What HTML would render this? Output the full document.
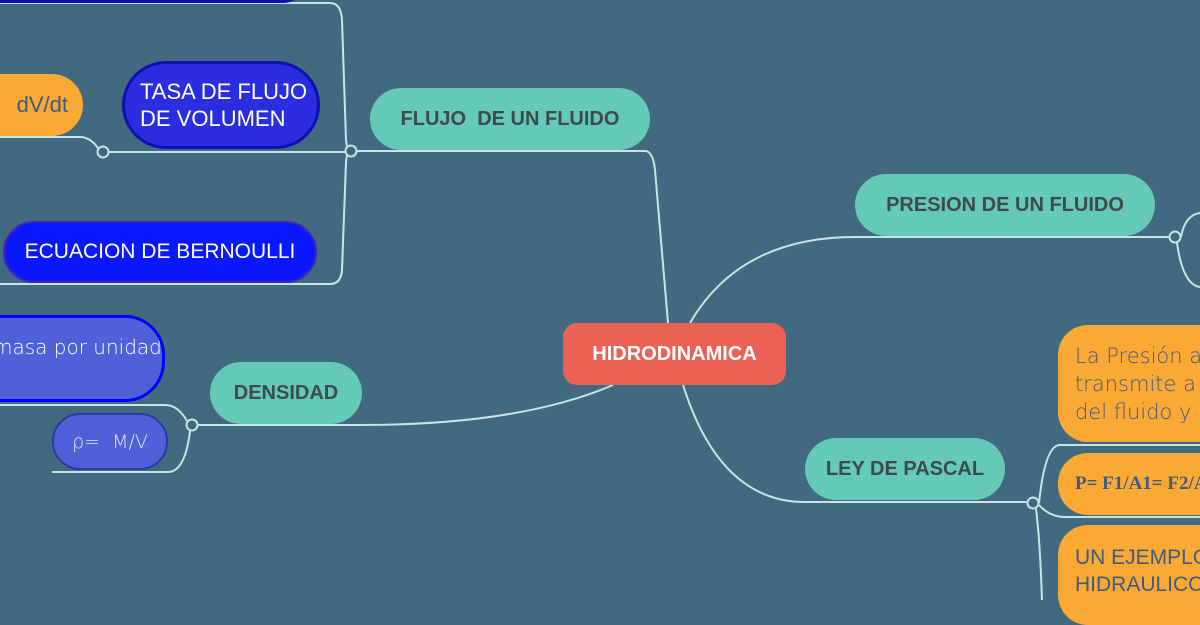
<!DOCTYPE html>
<html><head><meta charset="utf-8"><style>
html,body{margin:0;padding:0;width:1200px;height:600px;overflow:hidden;background:#416a80}
svg{position:absolute;left:0;top:0}
.n{position:absolute;box-sizing:border-box;display:flex;align-items:center;font-family:"Liberation Sans",sans-serif;white-space:nowrap}
.t{background:#65c9b8;color:#3f4a4c;font-weight:bold;font-size:20px;border-radius:31px;justify-content:center}
.hand{font-family:"DejaVu Sans",sans-serif;font-weight:300}
</style></head><body>
<svg width="1200" height="600" fill="none" stroke="#c6e6e4" stroke-width="2">
<path d="M0 3 H330 Q341 3 342 20 L346 140 Q347 151 351 151 Q347 151 346 162 L342 270 Q341 284 330 284 H0"/>
<path d="M0 137 H80 Q90 137 98 148"/>
<path d="M108 152 H345"/>
<path d="M357 151 H645 Q653 151 655 170 L668 323"/>
<path d="M690 323 Q740 237 855 237 H1169"/>
<path d="M1181 237 Q1185 215 1200 213"/>
<path d="M1177 243 Q1183 285 1200 287"/>
<path d="M683 385 Q720 502 805 502 H1027"/>
<path d="M1039 503 Q1045 445 1060 445 H1200"/>
<path d="M1039 505 Q1050 517 1065 517 H1200"/>
<path d="M1036 509 Q1040 540 1042 600"/>
<path d="M613 385 Q520 425 360 425 H198"/>
<path d="M187 421 Q178 405 165 405 H0"/>
<path d="M190 431 Q185 472 168 472 H52"/>
<circle cx="351" cy="151" r="5.5" fill="#416a80"/>
<circle cx="103" cy="152" r="5.5" fill="#416a80"/>
<circle cx="1175" cy="237" r="5.5" fill="#416a80"/>
<circle cx="1033" cy="503" r="5.5" fill="#416a80"/>
<circle cx="192" cy="425" r="5.5" fill="#416a80"/>
</svg>
<div class="n" style="left:-40px;top:-40px;width:345px;height:43px;background:#2a2ee0;border:3px solid #1010b0;border-radius:30px"></div>
<div class="n" style="left:-40px;top:74px;width:123px;height:62px;background:#fba834;border-radius:31px;color:#3d5c80;font-size:22px;justify-content:flex-end;padding-right:15px">dV/dt</div>
<div class="n" style="left:122px;top:61px;width:198px;height:88px;background:#2a2ee0;border:3px solid #1010b0;border-radius:44px;color:#fff;font-size:22px;padding-left:15px;line-height:27px">TASA DE FLUJO<br>DE VOLUMEN</div>
<div class="n" style="left:3px;top:221px;width:314px;height:62px;background:#0a18ff;border:2px solid #4028b0;border-radius:31px;color:#fff;font-size:21px;justify-content:center">ECUACION DE BERNOULLI</div>
<div class="n t" style="left:370px;top:88px;width:280px;height:62px">FLUJO&nbsp; DE UN FLUIDO</div>
<div class="n" style="left:563px;top:323px;width:223px;height:62px;background:#eb6155;border-radius:14px;color:#fff;font-weight:bold;font-size:20px;justify-content:center">HIDRODINAMICA</div>
<div class="n t" style="left:855px;top:174px;width:300px;height:62px">PRESION DE UN FLUIDO</div>
<div class="n t" style="left:805px;top:438px;width:200px;height:62px">LEY DE PASCAL</div>
<div class="n t" style="left:210px;top:362px;width:152px;height:62px">DENSIDAD</div>
<div class="n hand" style="left:-60px;top:315px;width:225px;height:87px;background:#5060d8;border:3px solid #0000ff;border-radius:40px;color:#fff;font-size:20px;align-items:flex-start;padding-top:17px;padding-left:50px;overflow:hidden">masa por unidad</div>
<div class="n hand" style="left:52px;top:413px;width:116px;height:57px;background:#5060d8;border:2px solid #2a3aa0;border-radius:28px;color:#e8e8f8;font-size:19px;justify-content:center">ρ=&nbsp; M/V</div>
<div class="n hand" style="left:1058px;top:325px;width:180px;height:117px;background:#fba834;border-radius:30px;color:#3d5c80;font-size:21px;padding-left:17px;line-height:28px">La Presión a<br>transmite a<br>del fluido y</div>
<div class="n" style="left:1058px;top:453px;width:180px;height:62px;background:#fba834;border-radius:30px;color:#3d5c80;font-size:19px;font-weight:bold;padding-left:17px;font-family:'Liberation Serif',serif">P= F1/A1= F2/A2</div>
<div class="n" style="left:1058px;top:525px;width:180px;height:100px;background:#fba834;border-radius:30px;color:#3d5c80;font-size:21px;padding-left:17px;align-items:flex-start;padding-top:19px;line-height:27px">UN EJEMPLO<br>HIDRAULICO</div>
</body></html>
